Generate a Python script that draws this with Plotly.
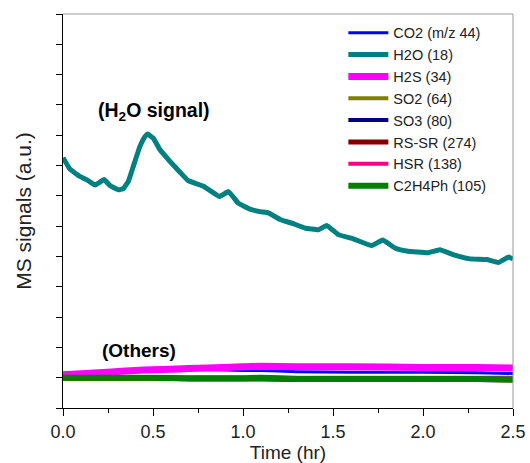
import plotly.graph_objects as go

# ---- data ----
t_h2o = [0.0, 0.039, 0.094, 0.14, 0.178, 0.202, 0.228, 0.261, 0.307, 0.335, 0.363,
         0.391, 0.428, 0.456, 0.47, 0.502, 0.539, 0.594, 0.65, 0.696, 0.78, 0.869,
         0.919, 0.974, 1.039, 1.094, 1.141, 1.206, 1.28, 1.344, 1.419, 1.465, 1.53,
         1.613, 1.715, 1.776, 1.844, 1.909, 2.028, 2.094, 2.167, 2.261, 2.354, 2.419,
         2.475, 2.5]
h2o = [3.63, 3.44, 3.32, 3.25, 3.18, 3.22, 3.27, 3.17, 3.10, 3.12, 3.24,
       3.49, 3.82, 3.98, 4.02, 3.95, 3.76, 3.57, 3.39, 3.25, 3.16, 2.99,
       3.07, 2.88, 2.78, 2.74, 2.72, 2.61, 2.54, 2.47, 2.44, 2.51, 2.36,
       2.29, 2.18, 2.27, 2.14, 2.09, 2.06, 2.11, 2.03, 1.96, 1.95, 1.90,
       1.99, 1.96]

t_oth = [0.0, 0.25, 0.4, 0.5, 0.7, 1.0, 1.1, 1.3, 1.6, 2.0, 2.3, 2.5]
co2 = [0.05, 0.08, 0.12, 0.15, 0.14, 0.12, 0.12, 0.10, 0.09, 0.09, 0.08, 0.07]
h2s = [0.05, 0.09, 0.12, 0.13, 0.15, 0.18, 0.19, 0.18, 0.18, 0.17, 0.17, 0.16]
so2 = [0.0, 0.0, 0.0, 0.0, 0.0, 0.0, 0.0, 0.0, 0.0, 0.0, 0.0, 0.0]
so3 = [0.0, 0.0, 0.0, 0.0, -0.01, -0.01, -0.01, -0.02, -0.02, -0.02, -0.02, -0.02]
rssr = [-0.01, -0.01, -0.01, -0.01, -0.02, -0.02, -0.02, -0.03, -0.03, -0.03, -0.03, -0.04]
hsr = [0.0, 0.0, 0.0, 0.0, 0.0, 0.0, 0.0, -0.01, -0.01, -0.01, -0.01, -0.01]
c2h4ph = [0.0, 0.0, 0.0, 0.0, -0.01, -0.01, 0.0, -0.02, -0.02, -0.02, -0.02, -0.03]

names = ["CO2 (m/z 44)", "H2O (18)", "H2S (34)", "SO2 (64)", "SO3 (80)",
         "RS-SR (274)", "HSR (138)", "C2H4Ph (105)"]
colors = ["#0000FF", "#008080", "#FF00FF", "#808000", "#000080",
          "#800000", "#FF0080", "#008000"]
widths = [3, 5, 7, 4, 4, 5, 4, 6]

series = [(t_oth, co2), (t_h2o, h2o), (t_oth, h2s), (t_oth, so2), (t_oth, so3),
          (t_oth, rssr), (t_oth, hsr), (t_oth, c2h4ph)]

FONT = "Liberation Sans, Arial, sans-serif"
TXT = "#222222"

fig = go.Figure()
for (xs, ys), n, c, w in zip(series, names, colors, widths):
    fig.add_trace(go.Scatter(x=xs, y=ys, name=n, mode="lines",
                             line=dict(color=c, width=w, shape="spline", smoothing=0.3)))

fig.update_layout(
    template="none",
    width=530, height=463,
    margin=dict(l=63, r=17, t=14, b=55, pad=0),
    paper_bgcolor="white", plot_bgcolor="white",
    font=dict(family=FONT, color=TXT, size=16),
    showlegend=True,
    legend=dict(x=0.623, y=0.993, xanchor="left", yanchor="top",
                bgcolor="rgba(0,0,0,0)", borderwidth=0,
                font=dict(size=14.5, family=FONT, color=TXT),
                itemwidth=40, tracegroupgap=0),
    xaxis=dict(range=[0, 2.5], showgrid=False, zeroline=False, automargin=False,
               showline=True, linecolor="black", linewidth=1,
               ticks="outside", ticklen=7, tickcolor="black", dtick=0.5, tick0=0,
               tickformat=".1f", tickfont=dict(size=18, family=FONT, color=TXT),
               minor=dict(ticks="outside", ticklen=4, dtick=0.25, tickcolor="black",
                          showgrid=False),
               title=dict(text="Time (hr)", font=dict(size=19, family=FONT, color=TXT),
                          standoff=4)),
    yaxis=dict(range=[-0.5, 6.0], showgrid=False, zeroline=False, automargin=False,
               showline=True, linecolor="black", linewidth=1,
               ticks="outside", ticklen=6, tickcolor="black", dtick=0.5, tick0=0,
               showticklabels=False,
               title=dict(text="MS signals (a.u.)", font=dict(size=21, family=FONT, color=TXT),
                          standoff=18)),
)

# gray top and right frame
fig.add_shape(type="line", xref="paper", yref="paper", x0=0, x1=1, y0=1, y1=1,
              line=dict(color="#999999", width=1))
fig.add_shape(type="line", xref="paper", yref="paper", x0=1, x1=1, y0=0, y1=1,
              line=dict(color="#999999", width=1))

fig.add_annotation(x=0.506, y=4.39, xref="x", yref="y", showarrow=False,
                   text="<b>(H<sub>2</sub>O signal)</b>",
                   font=dict(size=19.5, family=FONT, color="black"))
fig.add_annotation(x=0.422, y=0.45, xref="x", yref="y", showarrow=False,
                   text="<b>(Others)</b>",
                   font=dict(size=19, family=FONT, color="black"))

fig.write_html("out.html")
